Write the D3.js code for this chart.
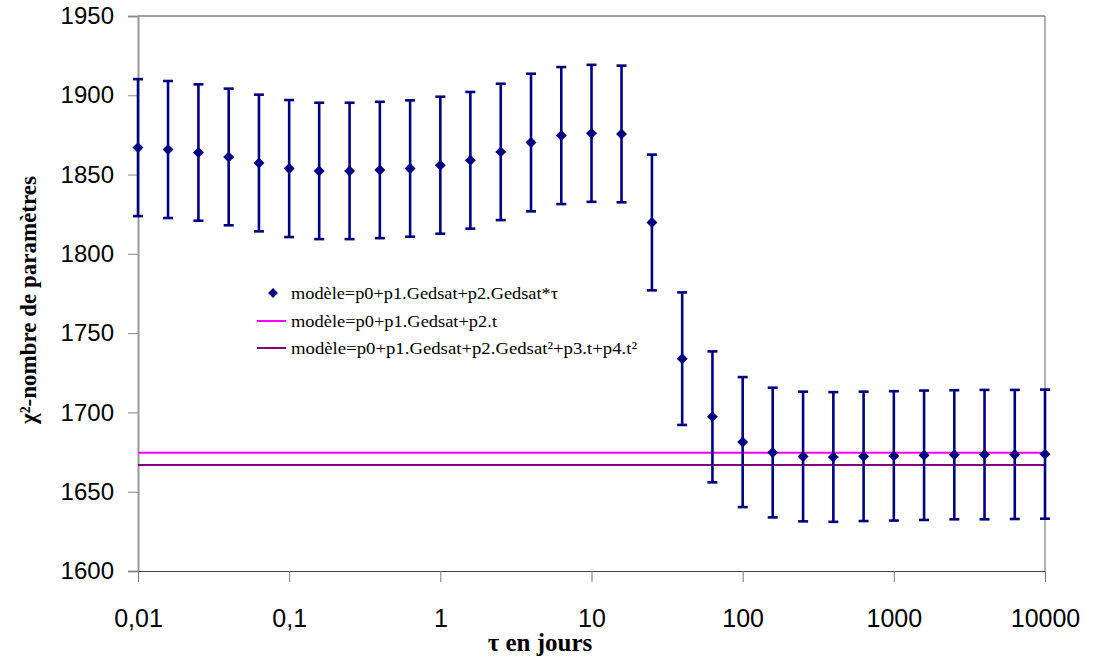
<!DOCTYPE html>
<html><head><meta charset="utf-8">
<script src="https://cdn.jsdelivr.net/npm/d3@7"></script>
<style>body{margin:0;background:#fff}svg{display:block}</style>
</head><body>
<script>
// ---- data ----
const tau = [0.01, 0.0158, 0.0251, 0.0398, 0.0631, 0.1, 0.158, 0.251, 0.398, 0.631,
  1, 1.58, 2.51, 3.98, 6.31, 10, 15.8, 25.1, 39.8, 63.1,
  100, 158, 251, 398, 631, 1000, 1585, 2512, 3981, 6310, 10000];
const chi2 = [1867.0, 1865.8, 1863.9, 1861.1, 1857.3, 1853.8, 1852.3, 1852.3, 1852.9, 1853.8,
  1855.9, 1859.0, 1864.3, 1870.2, 1874.6, 1876.0, 1875.6, 1819.8, 1733.9, 1697.2,
  1681.3, 1674.7, 1672.2, 1671.9, 1672.3, 1672.6, 1673.0, 1673.3, 1673.4, 1673.5, 1673.7];
const err = [43.2, 43.2, 43.0, 43.1, 43.1, 43.2, 43.0, 43.0, 43.0, 43.0,
  43.2, 43.1, 43.0, 43.4, 43.2, 43.2, 43.1, 42.8, 41.8, 41.3,
  41.0, 40.9, 40.9, 40.9, 40.8, 40.8, 40.8, 40.7, 40.8, 40.7, 40.7];
const hlineValues = [1674.6, 1666.9];
const hlineColors = ["#ff00ff", "#800080"];
const legendLabels = [
  "modèle=p0+p1.Gedsat+p2.Gedsat*τ",
  "modèle=p0+p1.Gedsat+p2.t",
  "modèle=p0+p1.Gedsat+p2.Gedsat²+p3.t+p4.t²"
];
const xTicks = [0.01, 0.1, 1, 10, 100, 1000, 10000];
const xTickLabels = ["0,01", "0,1", "1", "10", "100", "1000", "10000"];
const yTicks = [1600, 1650, 1700, 1750, 1800, 1850, 1900, 1950];

// ---- drawing ----
const W = 1094, H = 659;
const L = 138, R = 1045, T = 16, B = 571;
const svg = d3.select("body").append("svg").attr("width", W).attr("height", H);
const x = d3.scaleLog().domain([0.01, 10000]).range([L, R]);
const y = d3.scaleLinear().domain([1600, 1950]).range([B, T]);
const navy = "#000080";

// frame: top and right border
svg.append("line").attr("x1", L).attr("x2", R).attr("y1", T).attr("y2", T).attr("stroke", "#444").attr("stroke-width", 1);
svg.append("line").attr("x1", R).attr("x2", R).attr("y1", T).attr("y2", B).attr("stroke", "#666").attr("stroke-width", 1);

// y axis
const yAxis = d3.axisLeft(y).tickValues(yTicks).tickSize(10).tickPadding(14).tickFormat(d3.format("d"));
const gy = svg.append("g").attr("transform", `translate(${L},0)`).call(yAxis);
gy.select(".domain").attr("stroke", "#999").attr("stroke-width", 2);
gy.selectAll(".tick line").attr("stroke", "#888");
gy.selectAll(".tick text").attr("font-family", "Liberation Sans, Arial, sans-serif").attr("font-size", 24).attr("fill", "#000");

// x axis
const xAxis = d3.axisBottom(x).tickValues(xTicks).tickSize(11).tickPadding(27)
  .tickFormat((d, i) => xTickLabels[i]);
const gx = svg.append("g").attr("transform", `translate(0,${B})`).call(xAxis);
gx.select(".domain").attr("stroke", "#444").attr("stroke-width", 1);
gx.selectAll(".tick line").attr("stroke", "#777");
gx.selectAll(".tick text").attr("font-family", "Liberation Sans, Arial, sans-serif").attr("font-size", 25).attr("fill", "#000");

// horizontal model lines
svg.selectAll(".hline").data(hlineValues).join("line")
  .attr("x1", L).attr("x2", R)
  .attr("y1", d => y(d)).attr("y2", d => y(d))
  .attr("stroke", (d, i) => hlineColors[i]).attr("stroke-width", 2);

// error bars
const pts = tau.map((t, i) => ({t, v: chi2[i], e: err[i]}));
const eb = svg.append("g").attr("stroke", navy).attr("stroke-width", 2.6);
eb.selectAll(".v").data(pts).join("line")
  .attr("x1", d => x(d.t)).attr("x2", d => x(d.t))
  .attr("y1", d => y(d.v + d.e)).attr("y2", d => y(d.v - d.e));
eb.selectAll(".ct").data(pts).join("line")
  .attr("x1", d => x(d.t) - 5).attr("x2", d => x(d.t) + 5)
  .attr("y1", d => y(d.v + d.e)).attr("y2", d => y(d.v + d.e));
eb.selectAll(".cb").data(pts).join("line")
  .attr("x1", d => x(d.t) - 5).attr("x2", d => x(d.t) + 5)
  .attr("y1", d => y(d.v - d.e)).attr("y2", d => y(d.v - d.e));

// diamonds
const diamond = d3.symbol().type(d3.symbolSquare).size(60);
svg.append("g").selectAll("path").data(pts).join("path")
  .attr("d", diamond())
  .attr("transform", d => `translate(${x(d.t)},${y(d.v)}) rotate(45)`)
  .attr("fill", navy);

// legend
const lg = svg.append("g").attr("font-family", "Liberation Serif, Times New Roman, serif").attr("font-size", 17).attr("fill", "#000");
const lgY = [293, 321, 348];
const lgW = [267, 206, 346];
lg.append("path").attr("d", d3.symbol().type(d3.symbolSquare).size(48)())
  .attr("transform", `translate(273,${lgY[0]}) rotate(45)`).attr("fill", navy);
lg.selectAll(".ll").data(hlineColors).join("line")
  .attr("x1", 257).attr("x2", 286)
  .attr("y1", (d, i) => lgY[i + 1]).attr("y2", (d, i) => lgY[i + 1])
  .attr("stroke", d => d).attr("stroke-width", 2);
lg.selectAll("text").data(legendLabels).join("text")
  .attr("x", 291).attr("y", (d, i) => lgY[i]).attr("dy", "0.35em")
  .attr("textLength", (d, i) => lgW[i]).attr("lengthAdjust", "spacingAndGlyphs")
  .text(d => d);

// axis titles
svg.append("text").attr("x", 540).attr("y", 651).attr("text-anchor", "middle")
  .attr("font-family", "Liberation Serif, Times New Roman, serif").attr("font-weight", "bold").attr("font-size", 25)
  .text("τ en jours");
svg.append("text").attr("transform", "translate(36,300) rotate(-90)").attr("text-anchor", "middle")
  .attr("font-family", "Liberation Serif, Times New Roman, serif").attr("font-weight", "bold").attr("font-size", 23)
  .text("χ²-nombre de paramètres");
</script>
</body></html>
